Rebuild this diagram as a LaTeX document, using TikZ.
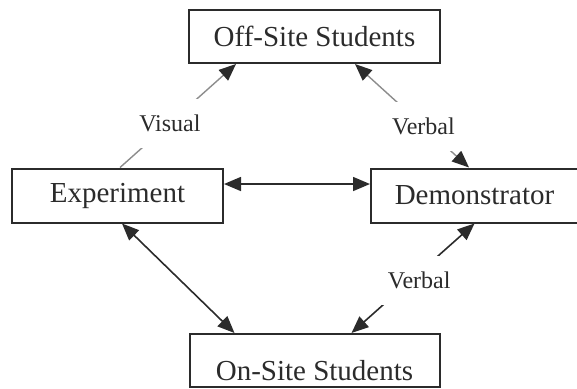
\documentclass[tikz,border=0pt]{standalone}
\usepackage{fontspec}
\setmainfont{Liberation Serif}
\usetikzlibrary{positioning,arrows.meta}

\definecolor{ink}{HTML}{2B2B2B}
\definecolor{faint}{HTML}{8C8C8C}

\tikzset{
  box/.style={draw=ink, line width=1pt, text=ink, inner sep=2pt,
    minimum height=27pt, font=\fontsize{14.5}{17}\selectfont},
  lbl/.style={fill=white, text=ink, inner xsep=5pt, inner ysep=8pt,
    font=\fontsize{12}{14}\selectfont},
  dark/.style={draw=ink, line width=0.8pt},
  light/.style={draw=faint, line width=0.7pt},
}

\begin{document}
\begin{tikzpicture}[>={Triangle[length=8.5pt,width=7pt,color=ink]}]
\useasboundingbox (0,0) rectangle (288.5pt,-194pt);
\node[box, minimum width=105.5pt](exp) at (58.75pt,-97.75pt){Experiment};
\node[box, minimum width=103.5pt, right = 73pt of exp](dem){Demonstrator};
\node[box, minimum width=125.5pt, minimum height=26.5pt](off) at (157.25pt,-18.25pt){Off-Site Students};
\node[box, minimum width=125pt, minimum height=26.5pt, text height=19.6pt, text depth=0pt, below = 134.5pt of off](on){On-Site Students};
\path ([xshift=1.25pt]exp.north) edge[light, ->] node[lbl, pos=0.43]{Visual} ([xshift=-39.25pt]off.south);
\path ([xshift=-2.75pt]dem.north) edge[light, <->] node[lbl, pos=0.4]{Verbal} ([xshift=20.25pt]off.south);
\path ([yshift=5.75pt]exp.east) edge[dark, <->] ([yshift=5.75pt]dem.west);
\path ([xshift=2.25pt]exp.south) edge[dark, <->] ([xshift=-40pt]on.north);
\path (dem.south) edge[dark, <->] node[lbl, pos=0.45, yshift=-4pt]{Verbal} ([xshift=18.5pt]on.north);
\end{tikzpicture}
\end{document}
